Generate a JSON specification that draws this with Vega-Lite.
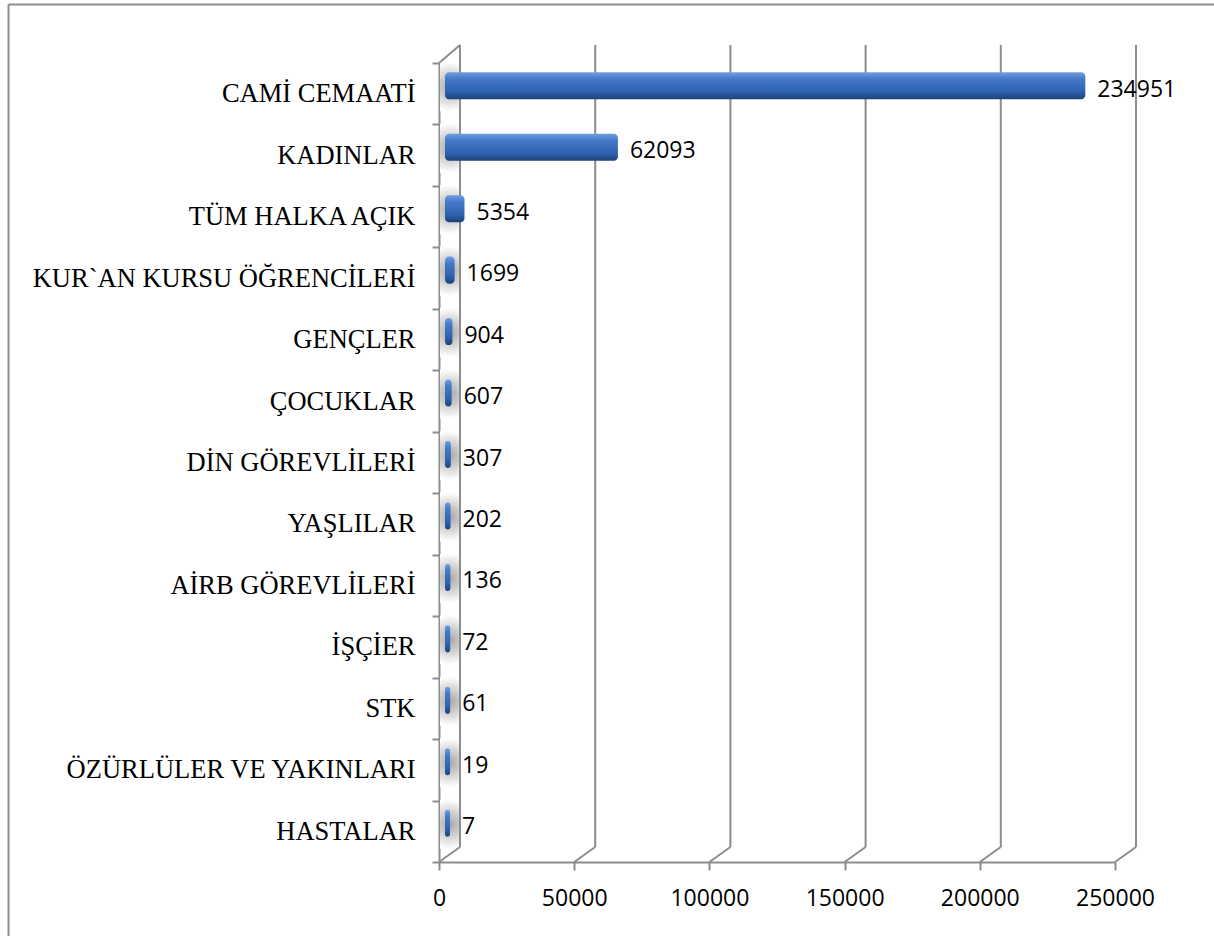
{
  "$schema": "https://vega.github.io/schema/vega-lite/v6.json",
  "width": 1206,
  "height": 932,
  "padding": {"left": 8, "top": 4, "right": 0, "bottom": 0},
  "autosize": {"type": "none"},
  "background": "white",
  "config": {"view": {"stroke": null}},
  "datasets": {
    "rows": [
      {"group": "CAMİ CEMAATİ", "count": 234951},
      {"group": "KADINLAR", "count": 62093},
      {"group": "TÜM HALKA AÇIK", "count": 5354},
      {"group": "KUR`AN KURSU ÖĞRENCİLERİ", "count": 1699},
      {"group": "GENÇLER", "count": 904},
      {"group": "ÇOCUKLAR", "count": 607},
      {"group": "DİN GÖREVLİLERİ", "count": 307},
      {"group": "YAŞLILAR", "count": 202},
      {"group": "AİRB GÖREVLİLERİ", "count": 136},
      {"group": "İŞÇİER", "count": 72},
      {"group": "STK", "count": 61},
      {"group": "ÖZÜRLÜLER VE YAKINLARI", "count": 19},
      {"group": "HASTALAR", "count": 7}
    ],
    "ticks": [{"v": 0}, {"v": 50000}, {"v": 100000}, {"v": 150000}, {"v": 200000}, {"v": 250000}]
  },
  "resolve": {"scale": {"x": "independent", "y": "independent"}, "axis": {"x": "independent", "y": "independent"}},
  "layer": [
    {
      "data": {"name": "ticks"},
      "mark": {"type": "point", "opacity": 0},
      "encoding": {
        "x": {
          "field": "v", "type": "quantitative", "title": null,
          "scale": {"domain": [0, 250000], "nice": false},
          "axis": {"orient": "top", "domain": true, "domainColor": "#8c8c8c", "domainWidth": 2, "ticks": false, "labels": false, "grid": false}
        },
        "y": {
          "field": "v", "type": "quantitative", "title": null,
          "scale": {"domain": [0, 250000], "nice": false},
          "axis": {"orient": "left", "domain": true, "domainColor": "#8c8c8c", "domainWidth": 2, "ticks": false, "labels": false, "grid": false}
        }
      }
    },
    {
      "layer": [
        {
          "data": {"name": "rows"},
          "mark": {
            "type": "bar",
            "height": {"band": 0.8},
            "yOffset": -7,
            "xOffset": 1,
            "x2Offset": 21,
            "fill": {
              "gradient": "radial",
              "x1": 0.5, "y1": 0.5, "r1": 0,
              "x2": 0.5, "y2": 0.5, "r2": 0.5,
              "stops": [
                {"offset": 0, "color": "#a8a8a8"},
                {"offset": 0.5, "color": "#d2d2d2"},
                {"offset": 1, "color": "#ffffff"}
              ]
            }
          },
          "encoding": {
            "x": {"datum": 0, "type": "quantitative", "title": null},
            "x2": {"datum": 0},
            "y": {"field": "group", "type": "nominal", "sort": null, "title": null}
          }
        },
        {
          "data": {"name": "ticks"},
          "mark": {"type": "rule", "color": "#8c8c8c", "strokeWidth": 2, "xOffset": 21, "yOffset": -18, "y2Offset": -15},
          "encoding": {
            "x": {"field": "v", "type": "quantitative", "title": null},
            "y": {"datum": "CAMİ CEMAATİ", "type": "nominal", "bandPosition": 0, "title": null},
            "y2": {"datum": "HASTALAR", "bandPosition": 1}
          }
        },
        {
          "data": {"name": "ticks"},
          "mark": {"type": "rule", "color": "#8c8c8c", "strokeWidth": 2, "x2Offset": 21, "y2Offset": -15},
          "encoding": {
            "x": {"field": "v", "type": "quantitative", "title": null},
            "x2": {"field": "v"},
            "y": {"datum": "HASTALAR", "type": "nominal", "bandPosition": 1, "title": null},
            "y2": {"datum": "HASTALAR", "bandPosition": 1}
          }
        },
        {
          "data": {"name": "ticks"},
          "transform": [{"filter": "datum.v === 0"}],
          "mark": {"type": "rule", "color": "#8c8c8c", "strokeWidth": 2, "x2Offset": 21, "y2Offset": -18},
          "encoding": {
            "x": {"field": "v", "type": "quantitative", "title": null},
            "x2": {"field": "v"},
            "y": {"datum": "CAMİ CEMAATİ", "type": "nominal", "bandPosition": 0, "title": null},
            "y2": {"datum": "CAMİ CEMAATİ", "bandPosition": 0}
          }
        },
        {
          "data": {"name": "rows"},
          "mark": {
            "type": "bar",
            "height": {"band": 0.44},
            "yOffset": -8,
            "xOffset": 11,
            "x2Offset": 6,
            "cornerRadius": 4,
            "fill": {
              "gradient": "linear",
              "x1": 0, "y1": 0, "x2": 0, "y2": 1,
              "stops": [
                {"offset": 0, "color": "#6f9fe0"},
                {"offset": 0.25, "color": "#4479c8"},
                {"offset": 0.7, "color": "#2f63b0"},
                {"offset": 1, "color": "#1c4379"}
              ]
            }
          },
          "encoding": {
            "x": {
              "field": "count", "type": "quantitative", "title": null, "stack": null,
              "scale": {"domain": [0, 250000], "range": [431, 1107], "nice": false},
              "axis": {
                "orient": "bottom", "offset": -74,
                "values": [0, 50000, 100000, 150000, 200000, 250000],
                "grid": false, "domainColor": "#8c8c8c", "domainWidth": 2,
                "tickColor": "#8c8c8c", "tickWidth": 2, "tickSize": 8,
                "labelFont": "Open Sans", "labelFontSize": 23, "labelColor": "#000000",
                "labelPadding": 17, "labelFlush": false, "labelOverlap": false, "format": "d"
              }
            },
            "x2": {"datum": 0},
            "y": {
              "field": "group", "type": "nominal", "sort": null, "title": null,
              "scale": {
                "domain": ["CAMİ CEMAATİ", "KADINLAR", "TÜM HALKA AÇIK", "KUR`AN KURSU ÖĞRENCİLERİ", "GENÇLER", "ÇOCUKLAR", "DİN GÖREVLİLERİ", "YAŞLILAR", "AİRB GÖREVLİLERİ", "İŞÇİER", "STK", "ÖZÜRLÜLER VE YAKINLARI", "HASTALAR"],
                "range": [59, 858], "paddingInner": 0, "paddingOuter": 0
              },
              "axis": {
                "orient": "left", "offset": -431, "tickBand": "extent",
                "domainColor": "#8c8c8c", "domainWidth": 2,
                "tickColor": "#8c8c8c", "tickWidth": 2, "tickSize": 7,
                "labelFont": "Liberation Serif", "labelFontSize": 26.5, "labelColor": "#000000",
                "labelPadding": 17, "labelLimit": 600
              }
            }
          }
        },
        {
          "data": {"name": "rows"},
          "mark": {"type": "text", "align": "left", "baseline": "middle", "dx": 23, "dy": -4, "font": "Open Sans", "fontSize": 23, "color": "#000000"},
          "encoding": {
            "x": {"field": "count", "type": "quantitative", "title": null},
            "y": {"field": "group", "type": "nominal", "sort": null, "title": null},
            "text": {"field": "count", "type": "quantitative", "format": "d"}
          }
        }
      ]
    }
  ]
}
